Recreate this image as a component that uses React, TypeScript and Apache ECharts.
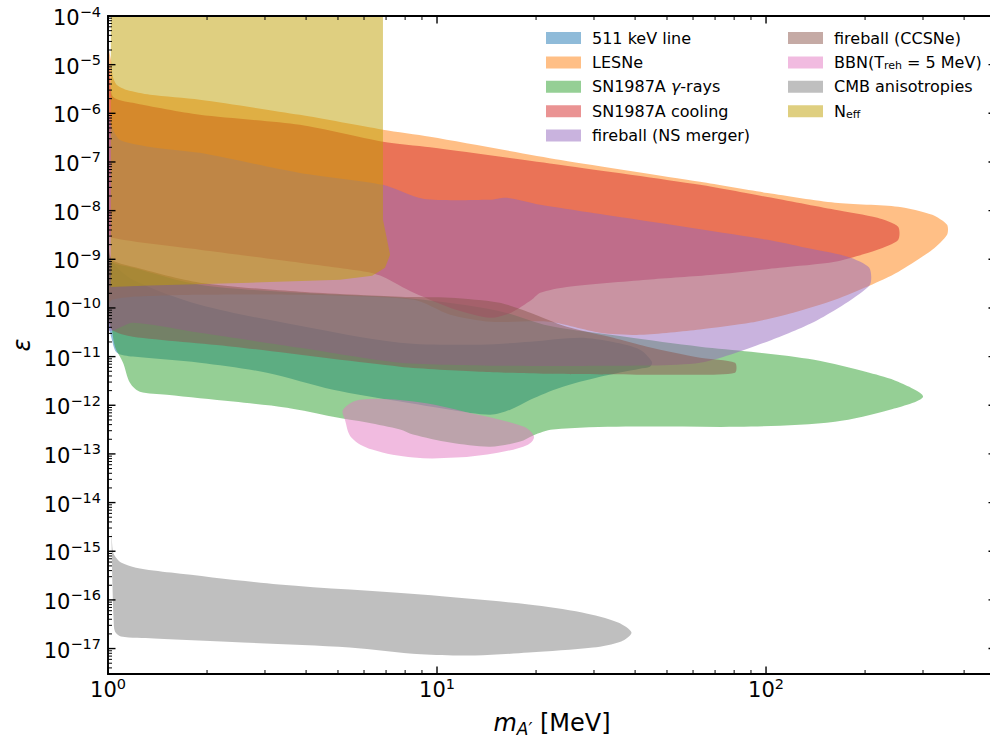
import React, { useEffect, useRef } from 'react';
import * as echarts from 'echarts';

const FONT = 'DejaVu Sans';

// Axis ranges
const X_MIN = 1;
const X_MAX = 500;
const Y_MIN = 3e-18;
const Y_MAX = 1e-4;

// Ticks and labels
const xMajorTicks = [1, 10, 100];
const xMinorTicks = [2, 3, 4, 5, 6, 7, 8, 9, 20, 30, 40, 50, 60, 70, 80, 90, 200, 300, 400, 500];
const xTickLabels = ['10{s|0}', '10{s|1}', '10{s|2}'];
const yMajorTicks = [1e-17, 1e-16, 1e-15, 1e-14, 1e-13, 1e-12, 1e-11, 1e-10, 1e-9, 1e-8, 1e-7, 1e-6, 1e-5, 1e-4];
const yTickLabels = ['10{s|−17}', '10{s|−16}', '10{s|−15}', '10{s|−14}', '10{s|−13}', '10{s|−12}', '10{s|−11}', '10{s|−10}', '10{s|−9}', '10{s|−8}', '10{s|−7}', '10{s|−6}', '10{s|−5}', '10{s|−4}'];
const yMinorMantissas = [2, 3, 4, 5, 6, 7, 8, 9];
const yMinorDecades = [1e-18, 1e-17, 1e-16, 1e-15, 1e-14, 1e-13, 1e-12, 1e-11, 1e-10, 1e-9, 1e-8, 1e-7, 1e-6, 1e-5];

// Region outlines: [mass (MeV), epsilon]
const line511 = [
  [1.0, 1.57e-9], [1.028, 8.9e-10], [1.19, 3.8e-10], [1.9, 1.16e-10], [3.83, 4.3e-11], [7.72, 1.93e-11],
  [13.5, 1.76e-11], [19.2, 2.02e-11], [27.2, 2.44e-11], [34.3, 2.0e-11], [41.4, 1.39e-11], [45.0, 7.85e-12],
  [44.4, 6.2e-12], [41.4, 5.65e-12], [31.3, 3.86e-12], [23.65, 2.3e-12], [19.2, 1.3e-12], [16.7, 8.1e-13],
  [14.5, 6.4e-13], [10.95, 8.1e-13], [7.72, 1.19e-12], [4.83, 2.09e-12], [3.04, 4.67e-12], [1.9, 7.5e-12],
  [1.19, 1.0e-11], [1.065, 1.2e-11], [1.028, 2.2e-11], [1.0, 5.7e-11],
];
const lesne = [
  [1.0, 2.2e-5], [1.021, 1.25e-5], [1.035, 5.6e-6], [1.065, 3.8e-6], [1.142, 3.0e-6], [1.342, 2.4e-6],
  [1.9, 1.9e-6], [3.83, 9.3e-7], [6.85, 4.6e-7], [9.52, 3.3e-7], [23.8, 1.1e-7], [63, 3.9e-8], [101, 2.3e-8],
  [162, 1.45e-8], [252, 1.2e-8], [320, 8.2e-9], [355, 5.1e-9], [355, 3.2e-9], [320, 1.57e-9], [252, 5.5e-10],
  [206, 2.86e-10], [162, 1.47e-10], [121, 8.0e-11], [90, 5.0e-11], [63, 3.6e-11], [41.7, 2.8e-11],
  [31.3, 3.1e-11], [21.9, 5.2e-11], [14.5, 5.2e-11], [10.95, 7.25e-11], [8.5, 1.47e-10], [3.83, 1.87e-10],
  [1.9, 1.87e-10], [1.19, 1.7e-10], [1.028, 1.47e-10], [1.0, 1.16e-10],
];
const sn1987aGamma = [
  [1.0, 1.57e-9], [1.028, 8.9e-10], [1.19, 6.7e-10], [1.9, 3.0e-10], [3.83, 2.05e-10], [8.5, 1.55e-10],
  [15.3, 8.8e-11], [21.9, 4.3e-11], [37.3, 2.56e-11], [63, 1.6e-11], [90, 1.26e-11], [140, 8.6e-12],
  [206, 4.67e-12], [252, 3.05e-12], [300, 1.5e-12], [238, 8.1e-13], [162, 4.6e-13], [90, 3.64e-13],
  [37.3, 3.64e-13], [22.5, 3.16e-13], [19.6, 2.4e-13], [17.9, 1.79e-13], [14.5, 1.41e-13], [10.95, 1.71e-13],
  [8.45, 2.5e-13], [7.72, 3.16e-13], [6.13, 4.4e-13], [4.83, 5.8e-13], [3.5, 8.9e-13], [2.4, 1.19e-12],
  [1.51, 1.65e-12], [1.25, 1.9e-12], [1.166, 2.9e-12], [1.111, 7.5e-12], [1.05, 1.6e-11], [1.028, 3.56e-11],
  [1.0, 9.2e-11],
];
const sn1987aCooling = [
  [1.0, 2.0e-5], [1.014, 6.2e-6], [1.035, 2.2e-6], [1.19, 1.64e-6], [1.9, 9.3e-7], [3.83, 5.8e-7],
  [6.85, 2.6e-7], [9.52, 2.0e-7], [23.8, 8.7e-8], [63, 3.4e-8], [101, 1.9e-8], [162, 1.04e-8], [218, 7.1e-9],
  [252, 4.65e-9], [252, 2.5e-9], [218, 1.57e-9], [162, 8.9e-10], [110, 6.7e-10], [69, 4.8e-10],
  [43.5, 3.8e-10], [24.8, 2.7e-10], [20.6, 2.05e-10], [19.4, 1.47e-10], [16.8, 8.0e-11], [14.5, 6.3e-11],
  [11.4, 9.2e-11], [8.5, 2.05e-10], [6.85, 4.4e-10], [6.13, 5.5e-10], [3.83, 8.5e-10], [1.9, 1.57e-9],
  [1.028, 2.76e-9], [1.0, 4.0e-9],
];
const fireballNS = [
  [1.0, 1.17e-6], [1.028, 5.26e-7], [1.088, 2.84e-7], [1.342, 2.04e-7], [1.9, 1.54e-7], [3.83, 5.97e-8],
  [6.85, 3.39e-8], [9.07, 1.75e-8], [14.5, 1.67e-8], [16.3, 1.83e-8], [20.6, 1.32e-8], [37.3, 7.11e-9],
  [101, 2.51e-9], [132, 1.72e-9], [178, 1.12e-9], [206, 6.69e-10], [206, 2.86e-10], [144, 5.7e-11],
  [104, 2.2e-11], [63, 7.5e-12], [31.3, 6.5e-12], [15.5, 6.5e-12], [7.72, 7.5e-12], [3.83, 1.52e-11],
  [1.9, 3.09e-11], [1.19, 4.97e-11], [1.0, 3.56e-11],
];
const fireballCCSNe = [
  [1.0, 2.0e-9], [1.028, 9.8e-10], [1.19, 7.0e-10], [1.9, 3.3e-10], [3.83, 2.15e-10], [7.72, 1.7e-10],
  [10.95, 1.62e-10], [15.5, 1.28e-10], [19.2, 8.0e-11], [24.8, 4.1e-11], [34.3, 2.44e-11], [43.5, 1.6e-11],
  [63, 9.5e-12], [80.5, 7.5e-12], [80.5, 4.67e-12], [63, 4.25e-12], [43.5, 4.25e-12], [21.6, 4.45e-12],
  [13.5, 4.9e-12], [7.72, 6.2e-12], [2.4, 1.6e-11], [1.19, 2.56e-11], [1.028, 3.56e-11], [1.0, 7.3e-11],
];
const bbn = [
  [5.18, 8.1e-13], [5.83, 1.3e-12], [8.5, 1.19e-12], [12.5, 7.05e-13], [18.3, 3.64e-13], [19.7, 2.27e-13],
  [18.9, 1.55e-13], [15.3, 1.06e-13], [11.4, 8.4e-14], [8.5, 8.4e-14], [6.35, 1.23e-13], [5.5, 2.16e-13],
  [5.25, 5.06e-13],
];
const cmb = [
  [1.025, 2.4e-15], [1.035, 9.9e-16], [1.057, 7.4e-16], [1.095, 5.9e-16], [1.216, 4.6e-16], [1.554, 3.65e-16],
  [3.31, 2.07e-16], [8.94, 1.29e-16], [19.0, 8.05e-17], [27.6, 5.5e-17], [35.5, 3.44e-17], [39.0, 2.14e-17],
  [36.3, 1.4e-17], [29.8, 1.05e-17], [19.0, 8.3e-18], [13.0, 7.2e-18], [8.94, 7.6e-18], [5.43, 1.05e-17],
  [2.57, 1.33e-17], [1.38, 1.61e-17], [1.095, 1.77e-17], [1.05, 2.24e-17], [1.04, 4.0e-17], [1.032, 1.9e-16],
  [1.027, 9.4e-16],
];
const neff = [
  [1.02, 1e-4], [6.85, 1e-4], [6.85, 6.5e-9], [7.0, 3.2e-9], [7.2, 1.24e-9], [6.95, 6.7e-10],
  [6.35, 4.6e-10], [5.07, 3.8e-10], [2.7, 3.3e-10], [1.34, 2.9e-10], [1.02, 2.7e-10],
];

const seriesNames = [
  '511 keV line', 'LESNe', 'SN1987A γ-rays', 'SN1987A cooling', 'fireball (NS merger)',
  'fireball (CCSNe)', 'BBN(T_reh = 5 MeV)', 'CMB anisotropies', 'N_eff',
];
const seriesColors = [
  'rgba(31,119,180,0.5)', 'rgba(255,127,14,0.5)', 'rgba(44,160,44,0.5)', 'rgba(214,39,40,0.5)',
  'rgba(148,103,189,0.5)', 'rgba(140,86,75,0.5)', 'rgba(227,119,194,0.5)', 'rgba(127,127,127,0.5)',
  'rgba(191,159,1,0.5)',
];
const regions = [line511, lesne, sn1987aGamma, sn1987aCooling, fireballNS, fireballCCSNe, bbn, cmb, neff];
const regionSmooth = [0.3, 0.25, 0.3, 0.25, 0.25, 0.25, 0.35, 0.3, 0];

const legendLabels: Record<string, string> = {
  'SN1987A γ-rays': 'SN1987A {it|γ}-rays',
  'BBN(T_reh = 5 MeV)': 'BBN(T{sub|reh} = 5 MeV)',
  'N_eff': 'N{sub|eff}',
};

const SUP_RICH = {
  s: { fontSize: 14.5, lineHeight: 17, verticalAlign: 'top', fontFamily: FONT, fill: '#000', color: '#000' },
};

function buildOption() {
  const regionSeries = regions.map((pts, i) => ({
    type: 'custom',
    name: seriesNames[i],
    coordinateSystem: 'cartesian2d',
    clip: true,
    silent: true,
    data: pts,
    encode: { x: 0, y: 1 },
    itemStyle: { color: seriesColors[i] },
    renderItem: (params: any, api: any) => {
      if (params.dataIndex !== 0) return null;
      return {
        type: 'polygon',
        shape: { points: pts.map((p) => api.coord(p)), smooth: regionSmooth[i] },
        style: { fill: seriesColors[i], stroke: 'none' },
      };
    },
  }));

  const xTickData = [
    ...xMajorTicks.map((v, i) => [v, Y_MIN, 1, i]),
    ...xMinorTicks.map((v) => [v, Y_MIN, 0, -1]),
  ];
  const yMinor: number[] = [];
  yMinorDecades.forEach((d) => yMinorMantissas.forEach((m) => {
    const v = m * d;
    if (v > Y_MIN && v < Y_MAX) yMinor.push(v);
  }));
  const yTickData = [
    ...yMajorTicks.map((v, i) => [X_MIN, v, 1, i]),
    ...yMinor.map((v) => [X_MIN, v, 0, -1]),
  ];

  const tickLine = (x1: number, y1: number, x2: number, y2: number, major: boolean) => ({
    type: 'line',
    shape: { x1, y1, x2, y2 },
    style: { stroke: '#000', lineWidth: major ? 1.4 : 1 },
  });

  const labelStyle = (text: string, align: string, verticalAlign: string) => ({
    text, fill: '#000', fontFamily: FONT, fontSize: 21, lineHeight: 28,
    align, verticalAlign, rich: SUP_RICH,
  });

  const xTicksSeries = {
    type: 'custom',
    name: '__xticks',
    coordinateSystem: 'cartesian2d',
    clip: false,
    silent: true,
    z: 10,
    data: xTickData,
    encode: { x: 0, y: 1 },
    renderItem: (params: any, api: any) => {
      const v = api.value(0);
      const major = api.value(2) === 1;
      const li = api.value(3);
      const b = api.coord([v, Y_MIN]);
      const t = api.coord([v, Y_MAX]);
      const len = major ? 7.5 : 4;
      const ch: any[] = [
        tickLine(b[0], b[1], b[0], b[1] - len, major),
        tickLine(t[0], t[1], t[0], t[1] + len, major),
      ];
      if (major) {
        ch.push({ type: 'text', x: b[0], y: b[1] + 2, style: labelStyle(xTickLabels[li], 'center', 'top') });
      }
      return { type: 'group', children: ch };
    },
  };

  const yTicksSeries = {
    type: 'custom',
    name: '__yticks',
    coordinateSystem: 'cartesian2d',
    clip: false,
    silent: true,
    z: 10,
    data: yTickData,
    encode: { x: 0, y: 1 },
    renderItem: (params: any, api: any) => {
      const v = api.value(1);
      const major = api.value(2) === 1;
      const li = api.value(3);
      const l = api.coord([X_MIN, v]);
      const r = api.coord([X_MAX, v]);
      const len = major ? 7.5 : 4;
      const ch: any[] = [
        tickLine(l[0], l[1], l[0] + len, l[1], major),
        tickLine(r[0], r[1], r[0] - len, r[1], major),
      ];
      if (major) {
        ch.push({ type: 'text', x: l[0] - 7, y: l[1] + 2, style: labelStyle(yTickLabels[li], 'right', 'middle') });
      }
      return { type: 'group', children: ch };
    },
  };

  const frameSeries = {
    type: 'custom',
    name: '__frame',
    coordinateSystem: 'cartesian2d',
    clip: false,
    silent: true,
    z: 11,
    data: [[X_MIN, Y_MIN]],
    encode: { x: 0, y: 1 },
    renderItem: (params: any, api: any) => {
      const a = api.coord([X_MIN, Y_MIN]);
      const b = api.coord([X_MAX, Y_MAX]);
      return {
        type: 'rect',
        shape: { x: a[0], y: b[1], width: b[0] - a[0], height: a[1] - b[1] },
        style: { fill: 'none', stroke: '#000', lineWidth: 1.9 },
      };
    },
  };

  const legendText = {
    fontFamily: FONT,
    fontSize: 16,
    color: '#000',
    lineHeight: 18,
    padding: [0, 0, 0, 6],
    rich: {
      it: { fontFamily: FONT, fontSize: 16, fontStyle: 'italic', color: '#000', lineHeight: 18 },
      sub: { fontFamily: FONT, fontSize: 11, lineHeight: 11, verticalAlign: 'bottom', color: '#000' },
    },
  };
  const legendData = seriesNames.map((n, i) => ({ name: n, icon: 'rect', itemStyle: { color: seriesColors[i], borderWidth: 0 } }));
  const legendBase = {
    orient: 'vertical',
    top: 29,
    padding: 0,
    itemWidth: 35,
    itemHeight: 12,
    itemGap: 6.4,
    selectedMode: false,
    textStyle: legendText,
    formatter: (name: string) => legendLabels[name] ?? name,
  };

  return {
    animation: false,
    backgroundColor: '#fff',
    grid: { left: 108, top: 16, width: 888, height: 658, show: false, outerBoundsMode: 'none', containLabel: false },
    xAxis: {
      type: 'log', logBase: 10, min: X_MIN, max: X_MAX,
      axisLine: { show: false }, axisTick: { show: false }, axisLabel: { show: false }, splitLine: { show: false },
    },
    yAxis: {
      type: 'log', logBase: 10, min: Y_MIN, max: Y_MAX,
      axisLine: { show: false }, axisTick: { show: false }, axisLabel: { show: false }, splitLine: { show: false },
    },
    legend: [
      { ...legendBase, left: 546, data: legendData.slice(0, 5) },
      { ...legendBase, left: 788, data: legendData.slice(5) },
    ],
    graphic: [
      {
        type: 'text', x: 552, y: 723,
        style: {
          text: '{it|m}{sub|A′} [MeV]', fill: '#000', fontFamily: FONT, fontSize: 24, lineHeight: 28,
          align: 'center', verticalAlign: 'middle',
          rich: {
            it: { fontFamily: FONT, fontSize: 24, fontStyle: 'italic', fill: '#000', lineHeight: 28 },
            sub: { fontFamily: FONT, fontSize: 17, fontStyle: 'italic', fill: '#000', lineHeight: 14, verticalAlign: 'bottom' },
          },
        },
      },
      {
        type: 'text', x: 22, y: 345, rotation: Math.PI / 2,
        style: { text: 'ε', fill: '#000', fontFamily: FONT, fontSize: 24, fontStyle: 'italic', align: 'center', verticalAlign: 'middle' },
      },
    ],
    series: [...regionSeries, xTicksSeries, yTicksSeries, frameSeries],
  };
}

export default function App() {
  const ref = useRef<HTMLDivElement>(null);
  useEffect(() => {
    if (!ref.current) return;
    const chart = echarts.init(ref.current, null, { renderer: 'svg' });
    chart.setOption(buildOption() as any);
    return () => chart.dispose();
  }, []);
  return (
    <div
      ref={ref}
      style={{ position: 'fixed', left: 0, top: 0, width: 990, height: 738, background: '#fff' }}
    />
  );
}
